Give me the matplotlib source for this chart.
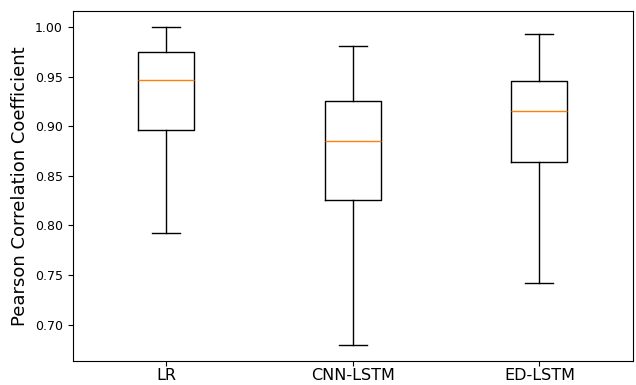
import matplotlib
matplotlib.use("Agg")
import matplotlib.pyplot as plt

# summary statistics
models = ["LR", "CNN-LSTM", "ED-LSTM"]
whisker_low = [0.7924, 0.6795, 0.7416]
q1 = [0.8960, 0.8256, 0.8639]
median = [0.9466, 0.8854, 0.9150]
q3 = [0.9745, 0.9257, 0.9459]
whisker_high = [1.0000, 0.9812, 0.9933]

stats = []
for i, name in enumerate(models):
    stats.append(dict(label=name, whislo=whisker_low[i], q1=q1[i], med=median[i],
                      q3=q3[i], whishi=whisker_high[i], fliers=[]))

fig = plt.figure(figsize=(6.36, 3.85), dpi=100)
ax = fig.add_axes([0.1143, 0.063, 0.8807, 0.908])
ax.bxp(stats, showfliers=False)

ax.set_ylabel("Pearson Correlation Coefficient", fontsize=13)
ax.tick_params(axis="y", labelsize=9)
ax.tick_params(axis="x", labelsize=11.5, pad=2)

fig.savefig("out.png", dpi=100)
